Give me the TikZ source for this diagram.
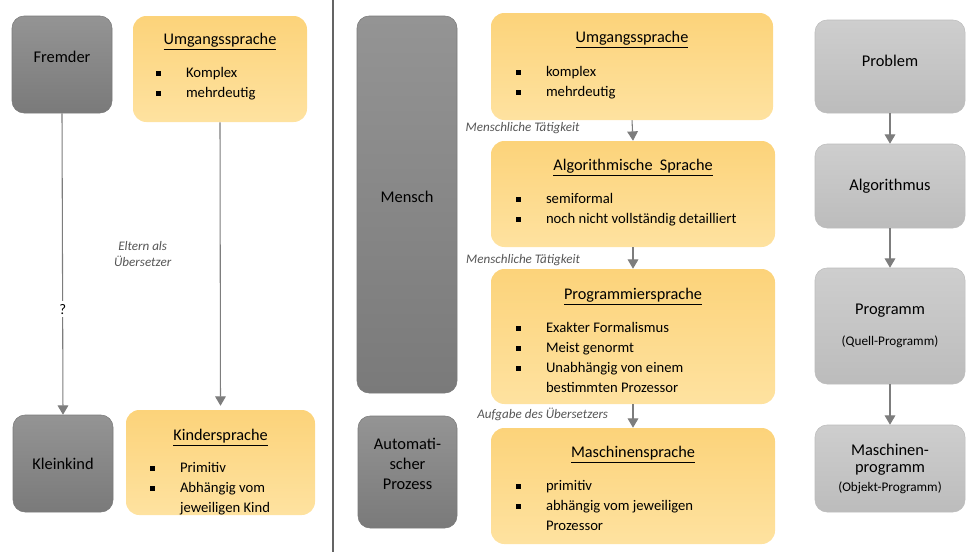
\documentclass[tikz,border=0pt]{standalone}
\usepackage{fontspec}
\setmainfont{Carlito}
\usetikzlibrary{calc, positioning, arrows.meta}
\definecolor{Dunkeloben}{RGB}{148,148,148}
\definecolor{Dunkelunten}{RGB}{122,122,122}
\definecolor{Hellоben}{RGB}{206,206,206}
\definecolor{Hellunten}{RGB}{188,188,188}
\definecolor{Orangeoben}{RGB}{252,211,122}
\definecolor{Orangeunten}{RGB}{254,226,160}
\definecolor{Pfeilgrau}{RGB}{125,125,125}
\definecolor{Textgrau}{RGB}{85,85,85}
\newcommand{\sqb}{\rule[0.25ex]{3.6pt}{3.6pt}}
\newcommand{\itm}[1]{\strut\makebox[22.5pt][l]{\sqb}#1}
\newcommand{\wtr}[1]{\strut\hspace*{22.5pt}#1}

\begin{document}
\begin{tikzpicture}[
  x=0.75pt, y=-0.75pt,
  font=\fontsize{11}{15}\selectfont,
  dunkel/.style={rounded corners=9pt, top color=Dunkeloben, bottom color=Dunkelunten,
                 draw=Dunkelunten, line width=0.4pt, align=center, inner sep=0pt,
                 font=\fontsize{12.3}{15}\selectfont},
  hell/.style={rounded corners=9pt, top color=Hellоben, bottom color=Hellunten,
               draw=Hellunten, line width=0.4pt, align=center, inner sep=0pt,
               font=\fontsize{12.3}{15}\selectfont},
  sprache/.style={rounded corners=10pt, top color=Orangeoben, bottom color=Orangeunten,
                  draw=none, inner sep=0pt},
  titel/.style={font=\fontsize{12.2}{14}\selectfont, inner sep=0pt},
  liste/.style={anchor=north west, align=left, inner sep=0pt},
  pfeil/.style={-{Triangle[width=8pt,length=7pt]}, draw=Pfeilgrau, line width=0.8pt},
  notiz/.style={font=\fontsize{9.8}{12}\selectfont\itshape, text=Textgrau, align=center}
]
\useasboundingbox (0,0) rectangle (980,557);

%% ——— Links: Kind und Fremder ———
\node[dunkel, minimum width=75pt, minimum height=72.75pt] (fremder) at (62,64.5) {Fremder\\[-4pt]};
\node[sprache, minimum width=130.5pt, minimum height=79.5pt] (umgl) at (220,69) {};
\node[titel] (umgltitel) at ($(umgl.north)+(0,26)$) {\underline{Umgangssprache}};
\node[liste] (umglliste) at ($(umgl.north west)+(23,47.5)$) {\itm{Komplex}\\ \itm{mehrdeutig}};

\node[dunkel, minimum width=75pt, minimum height=72.75pt] (kleinkind) at (63,463.5) {Kleinkind};
\node[sprache, minimum width=141.75pt, minimum height=78.75pt] (kind) at (220.5,462.5) {};
\node[titel] (kindtitel) at ($(kind.north)+(0,28)$) {\underline{Kindersprache}};
\node[liste] (kindliste) at ($(kind.north west)+(24,48.5)$) {\itm{Primitiv}\\ \itm{Abhängig vom}\\ \wtr{jeweiligen Kind}};

\draw[pfeil] (fremder.south) -- (kleinkind.north)
  node[pos=0.65, fill=white, inner sep=2pt] (frage) {?};
\draw[pfeil, shorten >=3pt] (umgl.south) -- (kind.north)
  node[notiz, pos=0.46, left=33pt] (eltern) {Eltern als\\Übersetzer};

%% ——— Trennlinie ———
\coordinate (trennoben) at (333,0);
\coordinate (trennunten) at (333,552);
\draw[line width=1.6pt, draw=Pfeilgrau!80!black] (trennoben) -- (trennunten);

%% ——— Mitte: Mensch / Automatischer Prozess ———
\node[dunkel, minimum width=75pt, minimum height=282.75pt] (mensch) at (407,204.5) {Mensch\\[-4pt]};
\node[dunkel, minimum width=74.25pt, minimum height=84pt] (auto) at (407.5,472) {Automati-\\scher\\Prozess\\[-3pt]};

%% ——— Sprachebenen ———
\node[sprache, minimum width=211.5pt, minimum height=80.25pt] (umgr) at (632,66.5) {};
\node[titel] (umgrtitel) at ($(umgr.north)+(0,27)$) {\underline{Umgangssprache}};
\node[liste] (umgrliste) at ($(umgr.north west)+(25,49.5)$) {\itm{komplex}\\ \itm{mehrdeutig}};

\node[sprache, minimum width=213pt, minimum height=79.5pt] (algo) at (633,194) {};
\node[titel] (algotitel) at ($(algo.north)+(0,27)$) {\underline{Algorithmische\ \ Sprache}};
\node[liste] (algoliste) at ($(algo.north west)+(25,48.5)$) {\itm{semiformal}\\ \itm{noch nicht vollständig detailliert}};

\node[sprache, minimum width=213pt, minimum height=101.25pt] (prog) at (633,336.5) {};
\node[titel] (progtitel) at ($(prog.north)+(0,28)$) {\underline{Programmiersprache}};
\node[liste] (progliste) at ($(prog.north west)+(25,49.5)$)
  {\itm{Exakter Formalismus}\\ \itm{Meist genormt}\\ \itm{Unabhängig von einem}\\ \wtr{bestimmten Prozessor}};

\node[sprache, minimum width=213pt, minimum height=87pt] (masch) at (633,486) {};
\node[titel] (maschtitel) at ($(masch.north)+(0,27)$) {\underline{Maschinensprache}};
\node[liste] (maschliste) at ($(masch.north west)+(25,48.5)$) {\itm{primitiv}\\ \itm{abhängig vom jeweiligen}\\ \wtr{Prozessor}};

\draw[pfeil] (umgr.south) -- (algo.north)
  node[notiz, pos=0.4, left=36pt] (taet1) {Menschliche Tätigkeit};
\draw[pfeil] (algo.south) -- (prog.north)
  node[notiz, pos=0.6, left=36pt] (taet2) {Menschliche Tätigkeit};
\draw[pfeil] (prog.south) -- (masch.north)
  node[notiz, pos=0.45, left=15pt] (uebers) {Aufgabe des Übersetzers};

%% ——— Rechts: Problem bis Maschinenprogramm ———
\node[hell, minimum width=112.5pt, minimum height=69.75pt] (problem) at (890,66.5) {Problem\\[-6.8pt]};
\node[hell, minimum width=112.5pt, minimum height=63pt] (algorithmus) at (890,186) {Algorithmus};
\node[hell, minimum width=112.5pt, minimum height=87pt] (programm) at (890,326)
  {Programm\\[8pt]{\fontsize{9.9}{12}\selectfont (Quell-Programm)}};
\node[hell, minimum width=112.5pt, minimum height=65.25pt] (maschprog) at (890,468.5)
  {Maschinen-\\[-2pt]programm\\[-1pt]{\fontsize{9.9}{12}\selectfont (Objekt-Programm)}};

\draw[pfeil] (problem.south) -- (algorithmus.north);
\draw[pfeil] (algorithmus.south) -- (programm.north);
\draw[pfeil] (programm.south) -- (maschprog.north);

\end{tikzpicture}
\end{document}
